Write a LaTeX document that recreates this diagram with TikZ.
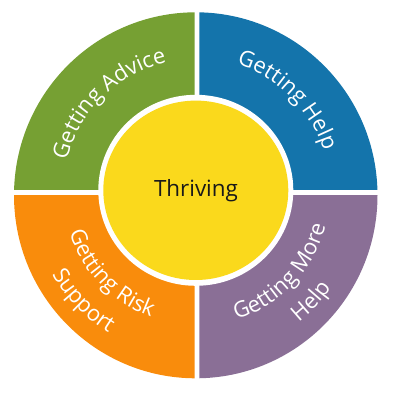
\documentclass[tikz,border=0pt]{standalone}
\usepackage{fontspec}
\newfontfamily\osans{Open Sans}
\usetikzlibrary{decorations.text}
\definecolor{qgreen}{HTML}{76A033}
\definecolor{qblue}{HTML}{1474AB}
\definecolor{qorange}{HTML}{F98C0C}
\definecolor{qpurple}{HTML}{8A6F96}
\definecolor{qyellow}{HTML}{FAD91C}
\begin{document}
\begin{tikzpicture}[x=1pt,y=1pt,
  ringlabel/.style={decorate, decoration={text along path, text align=center, text color=white,
     text={|\osans\fontsize{22}{26}\selectfont|#1}}}]
\useasboundingbox (0,0) rectangle (400,400);
\coordinate (oc) at (195.75,204.7);
\coordinate (ic) at (195.8,209.7);
\coordinate (tc) at (196,208);
% quadrants
\begin{scope}
  \clip (0,210.7) rectangle (194.7,400);
  \fill[qgreen] (oc) ellipse [x radius=181.75pt, y radius=183pt];
\end{scope}
\begin{scope}
  \clip (199.3,210.7) rectangle (400,400);
  \fill[qblue] (oc) ellipse [x radius=181.75pt, y radius=183pt];
\end{scope}
\begin{scope}
  \clip (0,0) rectangle (194.7,204.7);
  \fill[qorange] (oc) ellipse [x radius=181.75pt, y radius=183pt];
\end{scope}
\begin{scope}
  \clip (199.3,0) rectangle (400,204.7);
  \fill[qpurple] (oc) ellipse [x radius=181.75pt, y radius=183pt];
\end{scope}
% centre
\fill[white] (ic) ellipse [x radius=97.5pt, y radius=95.5pt];
\fill[qyellow] (ic) ellipse [x radius=92.5pt, y radius=89.7pt];
\node[font=\osans\fontsize{22.4}{26}\selectfont, anchor=base, inner sep=0pt, text=black!90] (thr) at (196,204) {Thriving};
% ring labels
\path[ringlabel={Getting Advice}] ([shift={(180:133pt)}]tc) arc[start angle=180, end angle=89, radius=133pt];
\path[ringlabel={Getting Help}] ([shift={(90:134pt)}]tc) arc[start angle=90, end angle=0, radius=134pt];
\path[ringlabel={Getting Risk}] ([shift={(179:133pt)}]tc) arc[start angle=179, end angle=269, radius=133pt];
\path[ringlabel={Support}] ([shift={(179:166pt)}]tc) arc[start angle=179, end angle=269, radius=166pt];
\path[ringlabel={Getting More}] ([shift={(271:134pt)}]tc) arc[start angle=271, end angle=362, radius=134pt];
\path[ringlabel={Help}] ([shift={(271:166pt)}]tc) arc[start angle=271, end angle=362, radius=166pt];
\end{tikzpicture}
\end{document}
